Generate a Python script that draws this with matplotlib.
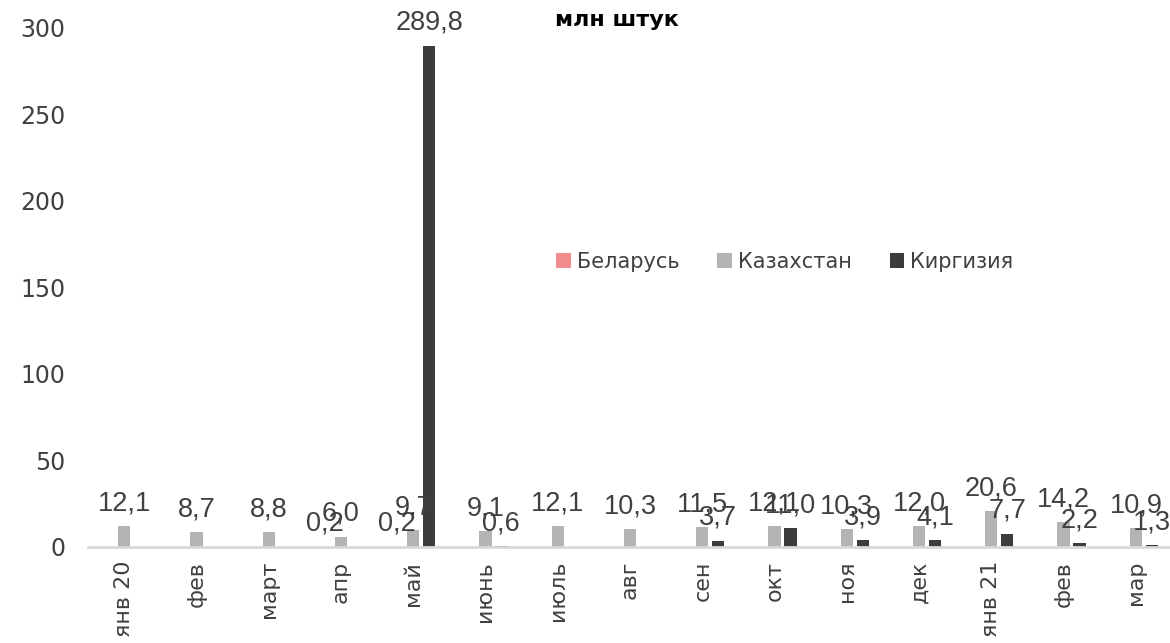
import numpy as np
import matplotlib.pyplot as plt

plt.rcParams["font.family"] = ["DejaVu Sans"]

# ---------------------------------------------------------------------------
# Data
# ---------------------------------------------------------------------------
months = ["янв 20", "фев", "март", "апр", "май", "июнь", "июль", "авг",
          "сен", "окт", "ноя", "дек", "янв 21", "фев", "мар"]
nan = np.nan
belarus = [nan, nan, nan, 0.2, 0.2, nan, nan, nan, nan, nan, nan, nan, nan, nan, nan]
kazakhstan = [12.1, 8.7, 8.8, 6.0, 9.7, 9.1, 12.1, 10.3, 11.5, 12.1, 10.3, 12.0, 20.6, 14.2, 10.9]
kirgizia = [nan, nan, nan, nan, 289.8, 0.6, nan, nan, 3.7, 11.0, 3.9, 4.1, 7.7, 2.2, 1.3]

series = [
    ("Беларусь", belarus, "#f28b8b"),
    ("Казахстан", kazakhstan, "#b3b3b3"),
    ("Киргизия", kirgizia, "#3c3c3c"),
]

TEXT = "#404040"

# ---------------------------------------------------------------------------
# Plot
# ---------------------------------------------------------------------------
fig = plt.figure(figsize=(11.7, 6.43), dpi=100)
ax = fig.add_axes([88 / 1170, 96 / 643, 1084 / 1170, 519 / 643])

x = np.arange(len(months))
width = 0.17
step = 0.22
for i, (name, vals, color) in enumerate(series):
    vals = np.array(vals, dtype=float)
    pos = x + (i - 1) * step
    ax.bar(pos, np.nan_to_num(vals), width, color=color, label=name, zorder=2)
    for px, v in zip(pos, vals):
        if np.isnan(v):
            continue
        ax.annotate(f"{v:.1f}".replace(".", ","), (px, v), xytext=(0, 7),
                    textcoords="offset points", ha="center", va="bottom",
                    fontsize=19.5, family="Liberation Sans", color=TEXT,
                    annotation_clip=False)

ax.set_xlim(-0.5, len(months) - 0.5)
ax.set_ylim(0, 300)
ax.set_yticks(range(0, 301, 50))
ax.set_xticks(x)
ax.set_xticklabels(months, rotation=90, fontsize=16, color=TEXT)
ax.tick_params(axis="y", length=0, pad=16.5, labelsize=17, labelcolor=TEXT)
ax.tick_params(axis="x", length=0, pad=10)

for side in ["top", "right", "left"]:
    ax.spines[side].set_visible(False)
ax.spines["bottom"].set_color("#d9d9d9")
ax.spines["bottom"].set_linewidth(2)

fig.text(617 / 1170, 1 - 20 / 643, "млн штук", ha="center", va="center",
         fontsize=16, fontweight="bold", color="black")

ax.legend(loc="center", bbox_to_anchor=(785 / 1170, 1 - 262 / 643),
          bbox_transform=fig.transFigure, ncol=3, frameon=False,
          fontsize=15, labelcolor=TEXT, handlelength=0.7, handleheight=0.7,
          handletextpad=0.3, columnspacing=1.8)

fig.savefig("out.png", dpi=100)
